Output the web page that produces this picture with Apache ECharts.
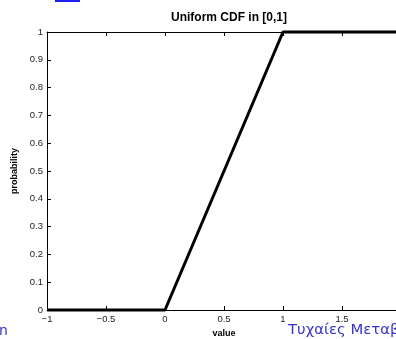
<!DOCTYPE html>
<html><head><meta charset="utf-8">
<script src="https://cdn.jsdelivr.net/npm/echarts@6/dist/echarts.min.js"></script>
<style>html,body{margin:0;padding:0;background:#fff;overflow:hidden}#c{width:396px;height:339px}</style>
</head><body><div id="c"></div>
<script>
var xValues = [-1, 0, 1, 2];
var cdfValues = [0, 0, 1, 1];
var titleText = 'Uniform CDF in [0,1]';
var xName = 'value';
var yName = 'probability';
var footerText = 'Τυχαίες Μεταβλητές';

var chart = echarts.init(document.getElementById('c'), null, {renderer: 'canvas'});
var fmt = function (v) { return String(v).replace('-', '\u2212'); };
var axisLineStyle = {color: '#000', width: 1};
var labelStyle = {color: '#222', fontSize: 9.5, fontFamily: 'Liberation Sans, Arial, sans-serif'};
chart.setOption({
  animation: false,
  backgroundColor: '#fff',
  title: {text: titleText, left: 224, top: 7, textAlign: 'center',
    textStyle: {fontSize: 12, fontWeight: 'bold', color: '#000', fontFamily: 'Liberation Sans, Arial, sans-serif'}},
  grid: {left: 47, top: 32, width: 354, height: 278, containLabel: false, outerBoundsMode: 'none'},
  xAxis: [{
    type: 'value', min: -1, max: 2, interval: 0.5, position: 'bottom',
    name: xName, nameLocation: 'middle', nameGap: 18,
    nameTextStyle: {fontSize: 9, fontWeight: 'bold', color: '#000', fontFamily: 'Liberation Sans, Arial, sans-serif'},
    axisLine: {show: true, onZero: false, lineStyle: axisLineStyle},
    axisTick: {inside: true, length: 4, lineStyle: {color: '#000'}},
    axisLabel: Object.assign({formatter: fmt, margin: 4}, labelStyle),
    splitLine: {show: false}
  }, {
    type: 'value', min: -1, max: 2, interval: 0.5, position: 'top',
    axisLine: {show: true, onZero: false, lineStyle: axisLineStyle},
    axisTick: {inside: true, length: 4, lineStyle: {color: '#000'}},
    axisLabel: {show: false}, splitLine: {show: false}
  }],
  yAxis: [{
    type: 'value', min: 0, max: 1, interval: 0.1, position: 'left',
    name: yName, nameLocation: 'middle', nameGap: 24, nameRotate: 90,
    nameTextStyle: {fontSize: 9, fontWeight: 'bold', color: '#000', fontFamily: 'Liberation Sans, Arial, sans-serif'},
    axisLine: {show: true, onZero: false, lineStyle: axisLineStyle},
    axisTick: {inside: true, length: 4, lineStyle: {color: '#000'}},
    axisLabel: Object.assign({formatter: fmt, margin: 4}, labelStyle),
    splitLine: {show: false}
  }, {
    type: 'value', min: 0, max: 1, interval: 0.1, position: 'right',
    axisLine: {show: true, onZero: false, lineStyle: axisLineStyle},
    axisTick: {inside: true, length: 4, lineStyle: {color: '#000'}},
    axisLabel: {show: false}, splitLine: {show: false}
  }],
  series: [{
    type: 'line', xAxisIndex: 0, yAxisIndex: 0,
    data: xValues.map(function (x, i) { return [x, cdfValues[i]]; }),
    showSymbol: false, symbol: 'none',
    lineStyle: {color: '#000', width: 3},
    clip: false
  }],
  graphic: [
    {type: 'rect', left: 55, top: 0, shape: {width: 25, height: 2}, style: {fill: '#2020ee'}},
    {type: 'text', left: -1, top: 324, style: {text: 'n', fill: '#3535c8', fontSize: 14, fontFamily: 'DejaVu Sans, sans-serif'}},
    {type: 'text', x: 288, y: 323, scaleX: 1.06, style: {text: footerText, fill: '#3535c8', fontSize: 14, fontFamily: 'DejaVu Sans, sans-serif'}}
  ]
});
</script></body></html>
